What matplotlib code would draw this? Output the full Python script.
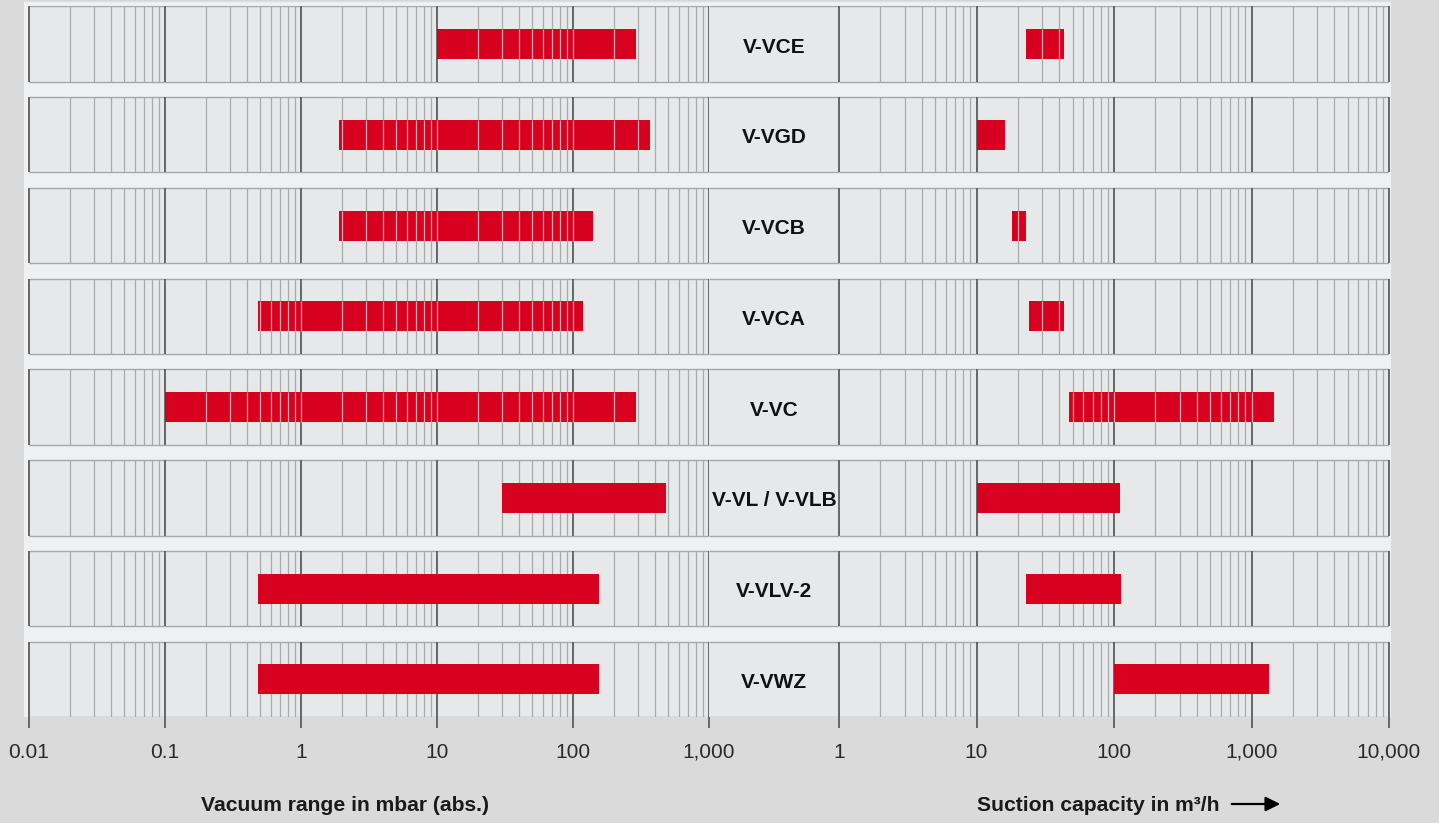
import numpy as np
import matplotlib.pyplot as plt
from matplotlib.patches import Rectangle
from matplotlib.ticker import NullLocator
from matplotlib.transforms import blended_transform_factory

plt.rcParams['font.family'] = ['Liberation Sans', 'DejaVu Sans']

# data ---------------------------------------------------------------------------
models = ['V-VCE', 'V-VGD', 'V-VCB', 'V-VCA', 'V-VC', 'V-VL / V-VLB', 'V-VLV-2', 'V-VWZ']
vac_lo = [10, 1.9, 1.9, 0.48, 0.1, 30, 0.48, 0.48]
vac_hi = [290, 370, 140, 118, 290, 480, 155, 155]
cap_lo = [23, 10, 18, 24, 47, 10, 23, 100]
cap_hi = [43, 16, 23, 43, 1450, 110, 112, 1330]
striped = [True, True, True, True, True, False, False, False]

vac_ticks = [0.01, 0.1, 1, 10, 100, 1000]
vac_labels = ['0.01', '0.1', '1', '10', '100', '1,000']
cap_ticks = [1, 10, 100, 1000, 10000]
cap_labels = ['1', '10', '100', '1,000', '10,000']

# style --------------------------------------------------------------------------
W, H = 1439, 823
outer = '#dadada'
strip = '#eff0f1'
rowfill = '#e7e8e9'
rowedge = '#a8a8a8'
major_c = '#5c5c5c'
minor_c = '#a9a9a9'
red = '#d7001e'
h = 0.415          # half height of a row box
bar_h = 0.33

def px(x0, y0, x1, y1):
    # pixel box -> figure fraction [left, bottom, width, height]
    return [x0 / W, 1 - y1 / H, (x1 - x0) / W, (y1 - y0) / H]

def grid_vals(ticks):
    minor = [m * t for t in ticks[:-1] for m in range(2, 10)]
    return minor

fig = plt.figure(figsize=(W / 100, H / 100), dpi=100, facecolor=outer)

bg = fig.add_axes([0, 0, 1, 1], zorder=0)
bg.set_xlim(0, W)
bg.set_ylim(H, 0)
bg.axis('off')
bg.add_patch(Rectangle((24, 2), 1367, 715, color=strip, lw=0))

n = len(models)
rows = np.arange(n)

def setup(ax):
    ax.set_facecolor('none')
    ax.set_ylim(n - 1 + 0.4135, -0.4185)
    for s in ax.spines.values():
        s.set_visible(False)
    ax.set_yticks([])

ax1 = fig.add_axes(px(29, 6, 709, 717), zorder=2)
axm = fig.add_axes(px(709, 6, 839, 717), zorder=2)
ax2 = fig.add_axes(px(839, 6, 1389, 717), zorder=2)

for ax in (ax1, axm, ax2):
    setup(ax)

panels = [(ax1, vac_ticks, vac_labels, vac_lo, vac_hi),
          (ax2, cap_ticks, cap_labels, cap_lo, cap_hi)]

for ax, ticks, labels, lo, hi in panels:
    ax.set_xscale('log')
    ax.set_xlim(ticks[0], ticks[-1])
    ax.set_xticks(ticks)
    ax.xaxis.set_minor_locator(NullLocator())
    ax.tick_params(axis='x', length=8, width=1.3, color=major_c, labelbottom=False)
    tr = blended_transform_factory(ax.transData, fig.transFigure)
    for t, lab in zip(ticks, labels):
        ax.text(t, 1 - 758 / H, lab, transform=tr, ha='center', va='baseline',
                fontsize=15, color='#2a2a2a', clip_on=False)
    minor = grid_vals(ticks)
    for i in rows:
        ax.axhspan(i - h, i + h, facecolor=rowfill, edgecolor='none', zorder=0)
        ax.hlines([i - h, i + h], ticks[0], ticks[-1], color=rowedge, lw=1, zorder=1)
        ax.vlines(minor, i - h, i + h, color=minor_c, lw=0.9, zorder=1)
        ax.vlines(ticks, i - h, i + h, color=major_c, lw=1.3, zorder=1, clip_on=False)
    ax.barh(rows, np.array(hi) - np.array(lo), left=lo, height=bar_h,
            color=red, edgecolor='none', zorder=2)
    allgrid = sorted(minor + ticks)
    for i in rows:
        if striped[i]:
            inside = [g for g in allgrid if lo[i] < g < hi[i]]
            ax.vlines(inside, i - bar_h / 2, i + bar_h / 2, color='#f3aab3', lw=0.9, zorder=3)

axm.set_xlim(0, 1)
axm.set_xticks([])
for i in rows:
    axm.axhspan(i - h, i + h, facecolor=rowfill, edgecolor='none', zorder=0)
    axm.hlines([i - h, i + h], 0, 1, color=rowedge, lw=1, zorder=1)
    axm.text(0.5, i + 0.094, models[i], ha='center', va='baseline', fontsize=15,
             fontweight='bold', color='#111111')

fig.text(345 / W, 1 - 811 / H, 'Vacuum range in mbar (abs.)', ha='center', va='baseline',
         fontsize=15.2, fontweight='bold', color='#1a1a1a')
fig.text(977 / W, 1 - 811 / H, 'Suction capacity in m³/h', ha='left', va='baseline',
         fontsize=15.2, fontweight='bold', color='#1a1a1a')
bg.annotate('', xy=(1283, 804), xytext=(1229, 804),
            arrowprops=dict(arrowstyle='-|>', color='black', lw=1.6, mutation_scale=22))

fig.savefig('out.png', dpi=100, facecolor=outer)
